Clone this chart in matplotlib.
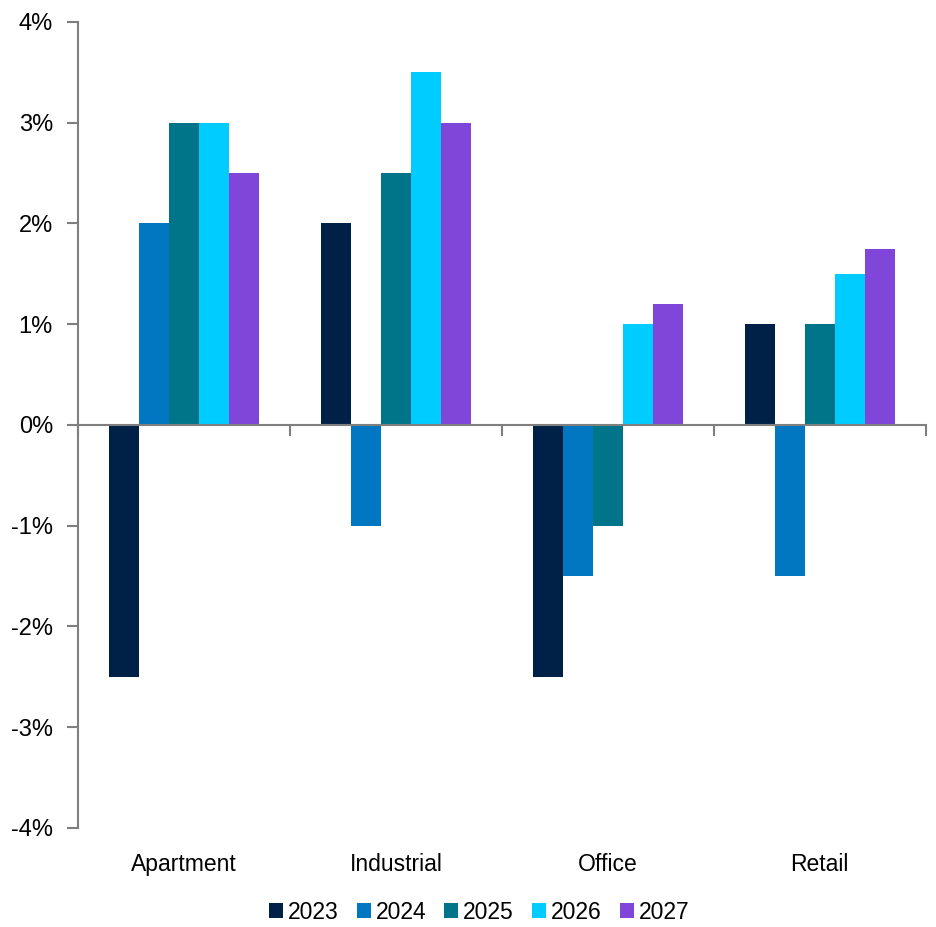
import matplotlib
matplotlib.use("Agg")
import matplotlib.pyplot as plt
import matplotlib.transforms as mtransforms
import numpy as np

plt.rcParams['font.family'] = ['Liberation Sans', 'DejaVu Sans']

categories = ["Apartment", "Industrial", "Office", "Retail"]
years = ["2023", "2024", "2025", "2026", "2027"]
values = {
    "2023": [-2.5, 2.0, -2.5, 1.0],
    "2024": [2.0, -1.0, -1.5, -1.5],
    "2025": [3.0, 2.5, -1.0, 1.0],
    "2026": [3.0, 3.5, 1.0, 1.5],
    "2027": [2.5, 3.0, 1.2, 1.75],
}
colors = ["#002147", "#0077C0", "#00758A", "#00CCFF", "#8046DA"]
yticks = [-4, -3, -2, -1, 0, 1, 2, 3, 4]

fig = plt.figure(figsize=(9.36, 9.27), dpi=100)
ax = fig.add_axes([0.0833, 0.1068, 0.9057, 0.8695])

x = np.arange(len(categories))
bw = 0.1415
for i, (yr, c) in enumerate(zip(years, colors)):
    ax.bar(x + (i - 2) * bw, values[yr], width=bw, color=c, label=yr, zorder=2)

ax.set_xlim(-0.5, len(categories) - 0.5)
ax.set_ylim(-4, 4)
ax.set_yticks(yticks)
ax.set_yticklabels([f"{t}%" for t in yticks], fontsize=17)

gray = "#7f7f7f"
for s in ["top", "right"]:
    ax.spines[s].set_visible(False)
ax.spines["left"].set_color(gray)
ax.spines["left"].set_linewidth(1.5)
ax.spines["bottom"].set_position(("data", 0))
ax.spines["bottom"].set_color(gray)
ax.spines["bottom"].set_linewidth(1.5)
ax.spines["bottom"].set_zorder(3)

ax.set_xticks(np.arange(len(categories) + 1) - 0.5)
ax.set_xticklabels([])
ax.tick_params(axis="x", direction="out", length=8, width=1.5, color=gray)
ax.tick_params(axis="y", direction="out", length=8, width=1.5, color=gray, pad=10)

trans = mtransforms.blended_transform_factory(ax.transData, ax.transAxes)
for xi, cat in zip(x, categories):
    ax.text(xi, -0.045, cat, transform=trans, ha="center", va="center", fontsize=16.5)

fig.legend(loc="center", bbox_to_anchor=(0.512, 0.016), ncol=5, frameon=False,
           fontsize=16.5, handlelength=0.61, handleheight=0.61, handletextpad=0.22,
           columnspacing=0.79)

fig.savefig("out.png", dpi=100)
